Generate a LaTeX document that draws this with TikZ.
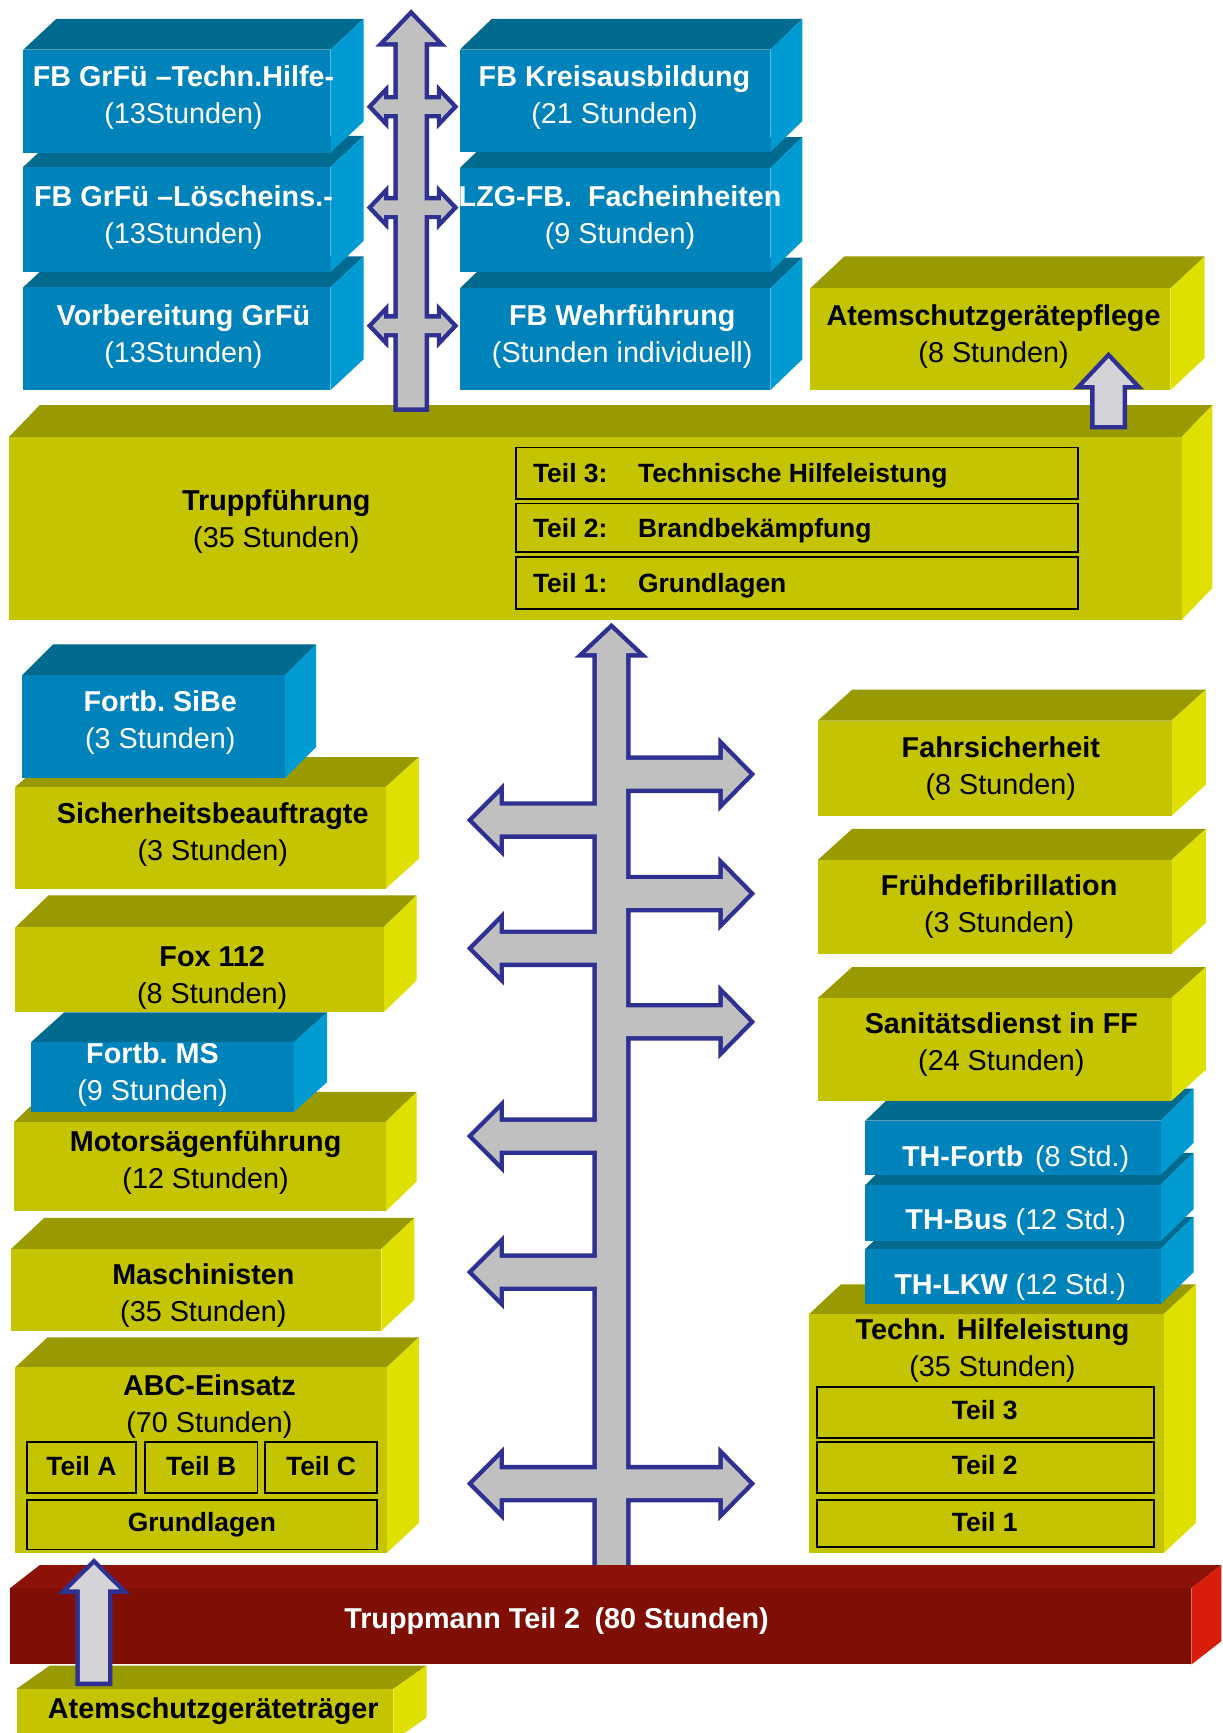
\documentclass[tikz,border=0pt]{standalone}
\usepackage{fontspec}
\setmainfont{Liberation Sans}
\usepackage{tikz}
\usetikzlibrary{calc}

\definecolor{kursblaufront}{HTML}{0083BB}
\definecolor{kursblaudach}{HTML}{006A8F}
\definecolor{kursblauseite}{HTML}{009BD3}
\definecolor{kursgelbfront}{HTML}{C4C400}
\definecolor{kursgelbdach}{HTML}{999900}
\definecolor{kursgelbseite}{HTML}{E0E000}
\definecolor{kursrotfront}{HTML}{7F0F05}
\definecolor{kursrotdach}{HTML}{8C1208}
\definecolor{kursrotseite}{HTML}{D81E0A}
\definecolor{pfeilgrau}{HTML}{C0C0C0}
\definecolor{pfeilhell}{HTML}{D3D3D8}
\definecolor{pfeilblau}{HTML}{2E3192}

% 3D-Block: links, oben, rechts, unten, Tiefe x, Tiefe y, Farbe
\newcommand{\kursblock}[7]{%
  \fill[#7dach] (#1,#2) -- (#1+#5,#2-#6) -- (#3+#5,#2-#6) -- (#3,#2) -- cycle;
  \fill[#7seite] (#3,#2) -- (#3+#5,#2-#6) -- (#3+#5,#4-#6) -- (#3,#4) -- cycle;
  \fill[#7front] (#1,#2) rectangle (#3,#4);
}

% Pfeile: einmal Rand, einmal Fuellung
\newcommand{\pfeiloben}[1]{%
  \path[#1] (360,368.6) -- (360,38.2) -- (349,38.2) -- (372,14.2) -- (395,38.2) -- (384.2,38.2) -- (384.2,368.6) -- cycle;
  \foreach \py in {96.5,187.8,294.8}
    \path[#1] (337.3,\py) -- (347.4,\py-10.6) -- (347.4,\py-6.5) -- (399.2,\py-6.5) -- (399.2,\py-10.6) -- (409.3,\py)
      -- (399.2,\py+10.6) -- (399.2,\py+6.5) -- (347.4,\py+6.5) -- (347.4,\py+10.6) -- cycle;
}
\newcommand{\pfeilunten}[1]{%
  \path[#1] (540,1425) -- (540,591) -- (529.9,591) -- (553.25,569) -- (576.6,591) -- (566.5,591) -- (566.5,1425) -- cycle;
  \foreach \py in {742,858,1028,1151}
    \path[#1] (553,\py-13) -- (452,\py-13) -- (452,\py-24.1) -- (428,\py) -- (452,\py+24.1) -- (452,\py+13) -- (553,\py+13) -- cycle;
  \foreach \py in {700.5,808.5,924.5}
    \path[#1] (553,\py-13) -- (654,\py-13) -- (654,\py-24.1) -- (677.7,\py) -- (654,\py+24.1) -- (654,\py+13) -- (553,\py+13) -- cycle;
  \path[#1] (428,1342.4) -- (452,1318.3) -- (452,1329.4) -- (654,1329.4) -- (654,1318.3) -- (677.7,1342.4)
    -- (654,1366.5) -- (654,1355.4) -- (452,1355.4) -- (452,1366.5) -- cycle;
}
\newcommand{\kleinpfeil}[5]{%
  \path[#5] (#1-12.7,#4) -- (#1-12.7,#3) -- (#1-22.8,#3) -- (#1,#2) -- (#1+22.8,#3) -- (#1+12.7,#3) -- (#1+12.7,#4) -- cycle;
}

\begin{document}
\begin{tikzpicture}[x=0.025cm, y=-0.025cm,
  blauschrift/.style={text=white, align=center, anchor=base, inner sep=0pt, font=\fontsize{18.5}{23.8}\selectfont},
  gelbschrift/.style={text=black, align=center, anchor=base, inner sep=0pt, font=\fontsize{18.5}{23.8}\selectfont},
  teilschrift/.style={text=black, anchor=base, inner sep=0pt, font=\fontsize{17}{20}\selectfont\bfseries},
  rahmen/.style={draw=black, line width=1.1pt},
  pfeilrand/.style={draw=pfeilblau, line width=5.7pt},
  pfeilfuell/.style={fill=pfeilgrau},
  kleinfuell/.style={fill=pfeilhell}]
  \useasboundingbox (0,0) rectangle (1106,1568);
  \fill[white] (0,0) rectangle (1106,1568);

  % untere Reihe zuerst, dann nach oben
  \kursblock{15}{1528}{356}{1575}{30}{21}{kursgelb}
  \kursblock{14}{1237}{350}{1405}{29}{27}{kursgelb}
  \kursblock{10}{1130}{345}{1204}{30}{28}{kursgelb}
  \kursblock{13}{1015}{349}{1096}{28}{27}{kursgelb}
  \kursblock{28}{943}{266}{1006}{30}{27}{kursblau}
  \kursblock{14}{839}{347}{916}{30}{29}{kursgelb}
  \kursblock{14}{712}{349}{804}{30}{27}{kursgelb}
  \kursblock{20}{611}{258}{704}{28}{28}{kursblau}

  \kursblock{732}{1189}{1053}{1405}{29}{27}{kursgelb}
  \kursblock{783}{1130}{1050}{1180}{30}{29}{kursblau}
  \kursblock{783}{1072}{1050}{1123}{30}{29}{kursblau}
  \kursblock{783}{1014}{1050}{1063}{30}{29}{kursblau}
  \kursblock{740}{903}{1060}{996}{31}{28}{kursgelb}
  \kursblock{740}{778}{1060}{863}{31}{28}{kursgelb}
  \kursblock{740}{652}{1060}{738}{31}{28}{kursgelb}

  \kursblock{8}{395.5}{1069}{561}{28}{29}{kursgelb}

  \kursblock{733}{261}{1059}{353}{31}{29}{kursgelb}
  \kursblock{416}{261}{697}{353}{29}{28}{kursblau}
  \kursblock{416}{152}{697}{246}{29}{28}{kursblau}
  \kursblock{416}{45}{697}{137.5}{29}{28}{kursblau}
  \kursblock{21}{260}{299}{353}{30}{28}{kursblau}
  \kursblock{21}{151}{299}{246}{30}{28}{kursblau}
  \kursblock{21}{45}{299}{138}{30}{28}{kursblau}

  % Teil-Rahmen
  \draw[rahmen] (467,405) rectangle (975.6,451.6);
  \draw[rahmen] (467,455.5) rectangle (975.6,499.6);
  \draw[rahmen] (467,503.8) rectangle (975.6,551);
  \draw[rahmen] (24.4,1305) rectangle (123,1351);
  \draw[rahmen] (131,1305) rectangle (233,1351);
  \draw[rahmen] (240,1305) rectangle (341,1351);
  \draw[rahmen] (24.4,1357) rectangle (341,1402);
  \draw[rahmen] (739,1255) rectangle (1044,1301);
  \draw[rahmen] (739,1305) rectangle (1044,1351);
  \draw[rahmen] (739,1357) rectangle (1044,1400);

  % Pfeile
  \pfeiloben{pfeilrand}
  \pfeiloben{pfeilfuell}
  \pfeilunten{pfeilrand}
  \pfeilunten{pfeilfuell}
  \kleinpfeil{1003}{324.1}{348.3}{384.5}{pfeilrand}
  \kleinpfeil{1003}{324.1}{348.3}{384.5}{kleinfuell}

  \kursblock{9}{1437}{1078}{1506}{27}{21}{kursrot}
  \kleinpfeil{85}{1415.4}{1438}{1521.5}{pfeilrand}
  \kleinpfeil{85}{1415.4}{1438}{1521.5}{kleinfuell}

  % Beschriftung (base = Grundlinie der zweiten Zeile)
  \node[blauschrift] (grfuTH) at (166,112) {\textbf{FB GrFü –Techn.Hilfe-}\\(13Stunden)};
  \node[blauschrift] (grfuLoesch) at (166,220) {\textbf{FB GrFü –Löscheins.-}\\(13Stunden)};
  \node[blauschrift] (grfuVorb) at (166,328) {\textbf{Vorbereitung GrFü}\\(13Stunden)};
  \node[blauschrift] (kreis) at (556,112) {\textbf{FB Kreisausbildung}\\(21 Stunden)};
  \node[blauschrift] (lzg) at (561,220) {\textbf{LZG-FB.\ \ Facheinheiten}\\(9 Stunden)};
  \node[blauschrift] (wehr) at (563,328) {\textbf{FB Wehrführung}\\(Stunden individuell)};
  \node[gelbschrift] (agwPflege) at (899,328) {\textbf{Atemschutzgerätepflege}\\(8 Stunden)};

  \node[gelbschrift] (truppf) at (250,495) {\textbf{Truppführung}\\(35 Stunden)};
  \node[teilschrift, anchor=base west] (tf3) at (482,436.9) {\makebox[67.6pt][l]{Teil 3:}Technische Hilfeleistung};
  \node[teilschrift, anchor=base west] (tf2) at (482,486.1) {\makebox[67.6pt][l]{Teil 2:}Brandbekämpfung};
  \node[teilschrift, anchor=base west] (tf1) at (482,536) {\makebox[67.6pt][l]{Teil 1:}Grundlagen};

  \node[blauschrift] (sibeFortb) at (145,677) {\textbf{Fortb.\ SiBe}\\(3 Stunden)};
  \node[gelbschrift] (sibe) at (192.5,779) {\textbf{Sicherheitsbeauftragte}\\(3 Stunden)};
  \node[gelbschrift] (fox) at (192,908) {\textbf{Fox 112}\\(8 Stunden)};
  \node[blauschrift] (msFortb) at (138,996) {\textbf{Fortb.\ MS}\\(9 Stunden)};
  \node[gelbschrift] (motorsaege) at (186,1075) {\textbf{Motorsägenführung}\\(12 Stunden)};
  \node[gelbschrift] (masch) at (184,1196) {\textbf{Maschinisten}\\(35 Stunden)};
  \node[gelbschrift] (abc) at (189.5,1296) {\textbf{ABC-Einsatz}\\(70 Stunden)};
  \node[teilschrift] (abcA) at (73.7,1334.6) {Teil A};
  \node[teilschrift] (abcB) at (182,1334.6) {Teil B};
  \node[teilschrift] (abcC) at (290.5,1334.6) {Teil C};
  \node[teilschrift] (abcG) at (182.7,1386.1) {Grundlagen};

  \node[gelbschrift] (fahr) at (905.5,719) {\textbf{Fahrsicherheit}\\(8 Stunden)};
  \node[gelbschrift] (defi) at (904,844) {\textbf{Frühdefibrillation}\\(3 Stunden)};
  \node[gelbschrift] (sani) at (906,969) {\textbf{Sanitätsdienst in FF}\\(24 Stunden)};
  \node[blauschrift] (thFortb) at (919,1055.5) {\textbf{TH-Fortb}\hspace{0.4em}(8 Std.)};
  \node[blauschrift] (thBus) at (919,1112.5) {\textbf{TH-Bus} (12 Std.)};
  \node[blauschrift] (thLkw) at (914,1171.5) {\textbf{TH-LKW} (12 Std.)};
  \node[gelbschrift] (th) at (898,1245) {\textbf{Techn. Hilfeleistung}\\(35 Stunden)};
  \node[teilschrift] (thT3) at (891,1284.6) {Teil 3};
  \node[teilschrift] (thT2) at (891,1334.4) {Teil 2};
  \node[teilschrift] (thT1) at (891,1385.6) {Teil 1};

  \node[blauschrift, font=\fontsize{18.5}{23.8}\selectfont\bfseries] (truppmann) at (503.5,1473.5) {Truppmann Teil 2\hspace{0.5em}(80 Stunden)};
  \node[gelbschrift, font=\fontsize{18.5}{23.8}\selectfont\bfseries] (agt) at (193,1554.5) {Atemschutzgeräteträger};
\end{tikzpicture}
\end{document}
